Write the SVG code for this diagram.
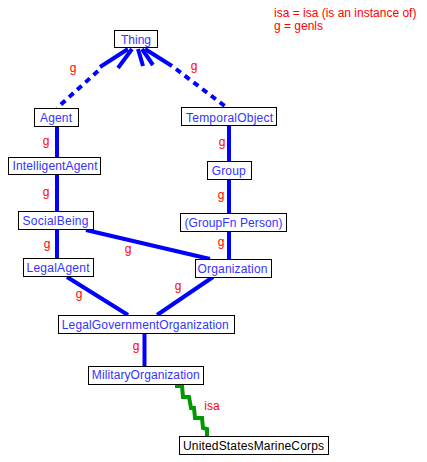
<svg xmlns="http://www.w3.org/2000/svg" width="427" height="462" viewBox="0 0 427 462">
<style>
.box{fill:#fff;stroke:#000;stroke-width:1}
.nt{font-family:"Liberation Sans",Arial,sans-serif;font-size:12px;fill:#3333ff;text-anchor:middle}
.lbl{font-family:"Liberation Sans",Arial,sans-serif;font-size:12px;fill:#ff0000;text-anchor:middle}
.leg{font-family:"Liberation Sans",Arial,sans-serif;font-size:12px;fill:#ff0000}
.g{stroke:#0000ff;stroke-width:4;fill:none}
.gd{stroke:#0000ff;stroke-width:4;fill:none;stroke-dasharray:6 5}
.isa{stroke:#009900;stroke-width:4;fill:none;stroke-linejoin:miter}
</style>
<rect width="427" height="462" fill="#fff"/>
<g id="connectors">
<line class="g" x1="128" y1="49" x2="100" y2="67"/>
<line class="g" x1="132" y1="49" x2="118" y2="68"/>
<line class="g" x1="138" y1="49" x2="143" y2="66"/>
<line class="g" x1="142" y1="49" x2="153" y2="65"/>
<line class="g" x1="145" y1="49" x2="172" y2="66"/>
<line class="gd" x1="98" y1="71" x2="57" y2="108"/>
<line class="gd" x1="176" y1="69" x2="226" y2="107"/>
<line class="g" x1="57" y1="126" x2="57" y2="157"/>
<line class="g" x1="57" y1="175" x2="57" y2="211"/>
<line class="g" x1="57" y1="230" x2="57" y2="258"/>
<line class="g" x1="229" y1="126" x2="229" y2="162"/>
<line class="g" x1="229" y1="180" x2="229" y2="213"/>
<line class="g" x1="229" y1="232" x2="229" y2="259"/>
<line class="g" x1="86" y1="230" x2="210" y2="259"/>
<line class="g" x1="67" y1="277" x2="128" y2="315"/>
<line class="g" x1="213" y1="277" x2="157" y2="315"/>
<line class="g" x1="144.5" y1="334" x2="144.5" y2="366"/>
<polyline class="isa" points="175,386 182,386 183,397 189,397 191,408 194,408 195,418 202,418 203,428 207,429 207,436"/>
<text class="lbl" x="73" y="72">g</text>
<text class="lbl" x="194" y="70">g</text>
<text class="lbl" x="46" y="145">g</text>
<text class="lbl" x="46" y="196">g</text>
<text class="lbl" x="47" y="248">g</text>
<text class="lbl" x="222" y="146">g</text>
<text class="lbl" x="221" y="199">g</text>
<text class="lbl" x="221" y="246">g</text>
<text class="lbl" x="128" y="253">g</text>
<text class="lbl" x="79" y="298">g</text>
<text class="lbl" x="178" y="290">g</text>
<text class="lbl" x="136" y="350">g</text>
<text class="lbl" x="212" y="410">isa</text>
</g>
<g id="legend">
<text class="leg" x="274" y="17">isa = isa (is an instance of)</text>
<text class="leg" x="274" y="30">g = genls</text>
</g>
<g id="Thing"><rect class="box" x="114.5" y="30.5" width="43" height="17"/><text class="nt" x="136" y="44" textLength="30" lengthAdjust="spacing">Thing</text></g>
<g id="Agent"><rect class="box" x="34.5" y="108.5" width="44" height="18"/><text class="nt" x="56" y="122" textLength="32" lengthAdjust="spacing">Agent</text></g>
<g id="TemporalObject"><rect class="box" x="181.5" y="107.5" width="95" height="18"/><text class="nt" x="229.5" y="121.5" textLength="87" lengthAdjust="spacing">TemporalObject</text></g>
<g id="IntelligentAgent"><rect class="box" x="8.5" y="157.5" width="92" height="17"/><text class="nt" x="55" y="170" textLength="85" lengthAdjust="spacing">IntelligentAgent</text></g>
<g id="SocialBeing"><rect class="box" x="18.5" y="211.5" width="75" height="18"/><text class="nt" x="55.5" y="224.5" textLength="66" lengthAdjust="spacing">SocialBeing</text></g>
<g id="LegalAgent"><rect class="box" x="23.5" y="258.5" width="70" height="18"/><text class="nt" x="58" y="272" textLength="63" lengthAdjust="spacing">LegalAgent</text></g>
<g id="Group"><rect class="box" x="207.5" y="161.5" width="44" height="18"/><text class="nt" x="228.7" y="174.5" textLength="34" lengthAdjust="spacing">Group</text></g>
<g id="GroupFnPerson"><rect class="box" x="180.5" y="213.5" width="106" height="18"/><text class="nt" x="233.5" y="226.5" textLength="98" lengthAdjust="spacing">(GroupFn Person)</text></g>
<g id="Organization"><rect class="box" x="195.5" y="259.5" width="76" height="18"/><text class="nt" x="232.5" y="272.7" textLength="70" lengthAdjust="spacing">Organization</text></g>
<g id="LegalGovernmentOrganization"><rect class="box" x="58.5" y="315.5" width="176" height="18"/><text class="nt" x="145.3" y="328.5" textLength="167" lengthAdjust="spacing">LegalGovernmentOrganization</text></g>
<g id="MilitaryOrganization"><rect class="box" x="88.5" y="366.5" width="115" height="18"/><text class="nt" x="145.8" y="379" textLength="108" lengthAdjust="spacing">MilitaryOrganization</text></g>
<g id="UnitedStatesMarineCorps"><rect class="box" x="179.5" y="436.5" width="149" height="18"/><text class="nt" x="253.5" y="450" textLength="141" lengthAdjust="spacing" style="fill:#000">UnitedStatesMarineCorps</text></g>
</svg>
